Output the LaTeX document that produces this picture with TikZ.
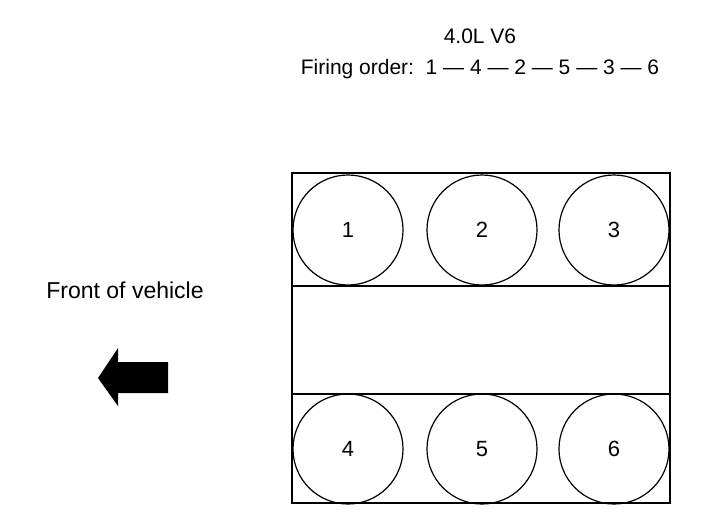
\documentclass[tikz,border=0pt]{standalone}
\usepackage{fontspec}
\setmainfont{Liberation Sans}
\tikzset{
  cyl/.style={draw,circle,line width=1.2pt,minimum size=110pt,inner sep=0pt,font=\fontsize{22}{26}\selectfont},
  lbl/.style={anchor=base,inner sep=0pt,font=\fontsize{21}{25}\selectfont}
}
\begin{document}
\begin{tikzpicture}[x=1pt,y=-1pt]
\useasboundingbox (0,0) rectangle (704,520);

\node[lbl] (eng) at (480,43) {4.0L V6};
\node[lbl] (ord) at (480,74) {Firing order:\ \ 1 --- 4 --- 2 --- 5 --- 3 --- 6};
\node[lbl,font=\fontsize{23}{27}\selectfont] (front) at (125,298) {Front of vehicle};

% block
\draw[line width=1.2pt] (292,173) rectangle (670,503);
\draw[line width=1.5pt] (292,286) -- (670,286);
\draw[line width=1.5pt] (292,394) -- (670,394);

\node[cyl] (c1) at (348,230) {1};
\node[cyl] (c2) at (482,230) {2};
\node[cyl] (c3) at (614,230) {3};
\node[cyl] (c4) at (348,449) {4};
\node[cyl] (c5) at (482,449) {5};
\node[cyl] (c6) at (614,449) {6};

% arrow
\fill (98,378) -- (118,348) -- (118,362) -- (168,362) -- (168,393) -- (118,393) -- (118,406) -- cycle;
\end{tikzpicture}
\end{document}
